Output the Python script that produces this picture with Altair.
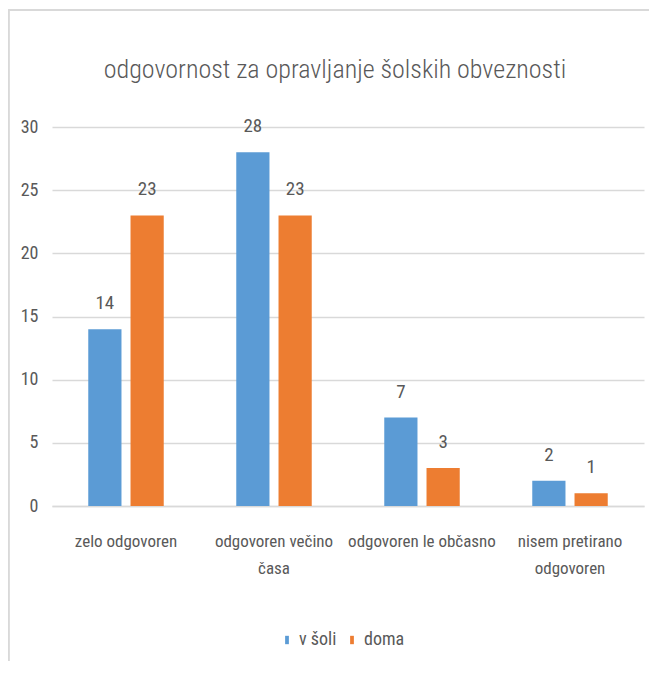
import json
import altair as alt
import pandas as pd

categories = ["zelo odgovoren", "odgovoren večino časa", "odgovoren le občasno", "nisem pretirano odgovoren"]
label_lines = [["zelo odgovoren"], ["odgovoren večino", "časa"], ["odgovoren le občasno"], ["nisem pretirano", "odgovoren"]]
series = ["v šoli", "doma"]
v_soli = [14, 28, 7, 2]
doma = [23, 23, 3, 1]
y_ticks = [0, 5, 10, 15, 20, 25, 30]
colors = ["#5B9BD5", "#ED7D31"]
title_text = "odgovornost za opravljanje šolskih obveznosti"

rows = []
for c, a, b in zip(categories, v_soli, doma):
    rows.append({"cat": c, "series": series[0], "value": a})
    rows.append({"cat": c, "series": series[1], "value": b})
df = pd.DataFrame(rows)

FONT = "Roboto Condensed, Liberation Sans Narrow, Roboto, sans-serif"
TEXT = "#595959"
GRID = "#d9d9d9"

expr = ""
for c, lines in zip(categories, label_lines):
    expr += f"datum.value === {json.dumps(c, ensure_ascii=False)} ? {json.dumps(lines, ensure_ascii=False)} : "
expr += "datum.value"

x = alt.X("cat:N", sort=categories,
          scale=alt.Scale(paddingInner=0.49, paddingOuter=0.245),
          axis=alt.Axis(title=None, labelAngle=0, ticks=False, domainColor=GRID, domainWidth=1.5,
                        labelExpr=expr, labelPadding=27, labelFontSize=17, labelColor=TEXT,
                        labelFont=FONT, labelLineHeight=27, labelLimit=0))
xo = alt.XOffset("series:N", sort=series, scale=alt.Scale(paddingInner=0.214, paddingOuter=0))
y = alt.Y("value:Q", scale=alt.Scale(domain=[0, 30], nice=False),
          axis=alt.Axis(values=y_ticks, title=None, domain=False, ticks=False, gridColor=GRID,
                        gridWidth=1.5, labelFontSize=18, labelColor=TEXT, labelFont=FONT,
                        labelPadding=14))

base = alt.Chart(df)
bars = base.mark_bar().encode(
    x=x, xOffset=xo, y=y,
    color=alt.Color("series:N", sort=series,
                    scale=alt.Scale(domain=series, range=colors),
                    legend=alt.Legend(orient="none", legendX=226, legendY=504, direction="horizontal",
                                      title=None, labelFontSize=18, labelColor=TEXT, labelFont=FONT,
                                      symbolType="M-0.45,-1L0.45,-1L0.45,1L-0.45,1Z", symbolSize=70,
                                      symbolStrokeWidth=0, labelOffset=3, columnPadding=6)),
)
labels = base.mark_text(dy=-20, baseline="alphabetic", fontSize=19, color=TEXT, font=FONT).encode(
    x=x, xOffset=xo, y=y, text="value:Q")

frame_left = base.mark_rule(color=GRID, strokeWidth=1.5).encode(
    x=alt.value(-43.5), y=alt.value(-117), y2=alt.value(534))
frame_top = base.mark_rule(color=GRID, strokeWidth=1.5).encode(
    x=alt.value(-43.5), x2=alt.value(597), y=alt.value(-117))

chart = alt.layer(frame_left, frame_top, bars, labels).properties(
    width=592, height=379,
    title=alt.TitleParams(title_text, fontSize=26, font=FONT, color=TEXT, fontWeight=300,
                          anchor="middle", offset=0, dy=74, dx=-13),
    autosize=alt.AutoSizeParams(type="none"),
    padding={"left": 44, "top": 119, "right": 5, "bottom": 163},
    background="white",
).configure_view(stroke=None)

chart.save("out.html", embed_options={"renderer": "svg", "actions": False})
